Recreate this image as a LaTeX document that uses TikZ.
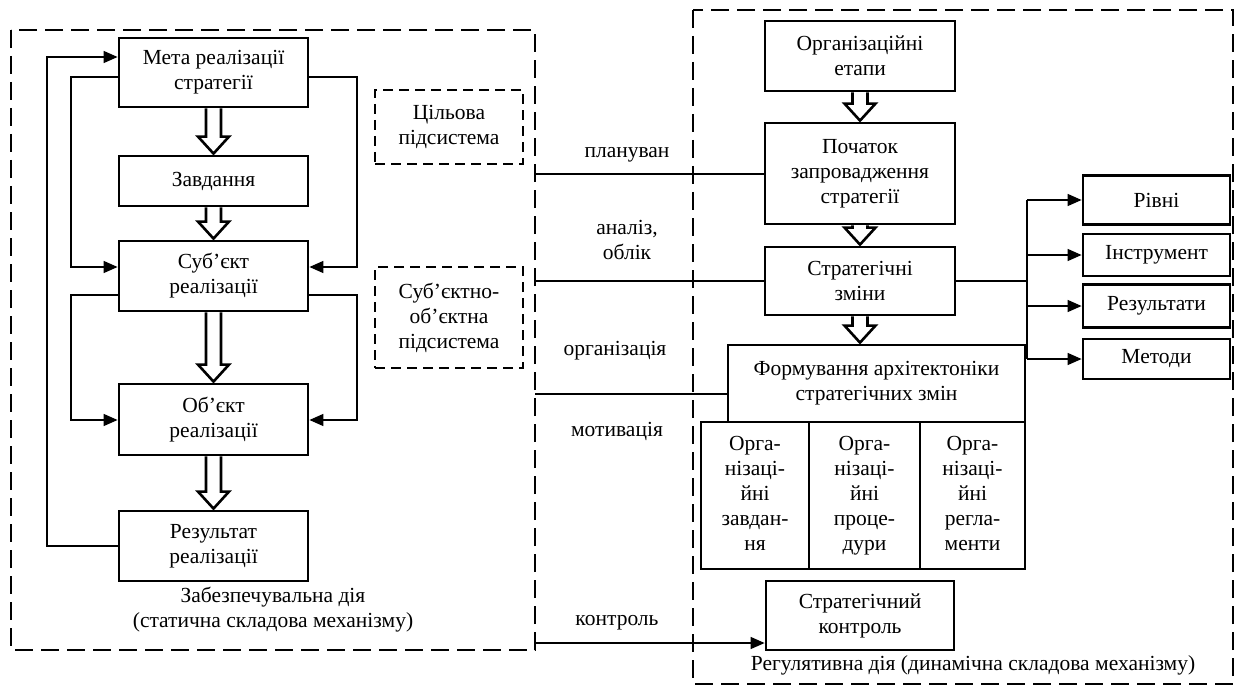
\documentclass[tikz,border=0pt]{standalone}
\usepackage{fontspec}
\setmainfont{Liberation Serif}
\usetikzlibrary{arrows.meta,calc,backgrounds}
\newcommand{\dfont}{\fontsize{21.5}{25}\selectfont}
\tikzset{
  box/.style={draw, line width=2.8pt, inner sep=0pt, align=center, font=\dfont},
  dbox/.style={draw, line width=2.8pt, dash pattern=on 10pt off 6pt, inner sep=0pt, align=center, font=\dfont},
  bigdash/.style={line width=2.8pt, dash pattern=on 18pt off 8pt},
  thinline/.style={line width=1.4pt},
  tarrow/.style={thinline, -{Triangle[length=14pt,width=12pt]}},
  lbl/.style={align=center, inner sep=0pt, font=\dfont},
  hollow/.style={line width=2.6pt, fill=white, line join=miter},
}
\newcommand{\harrow}[2]{%
  \draw[hollow] let \p1=(#1.south), \p2=(#2.north) in
    (\x1-7.5pt,\y1) -- (\x1-7.5pt,\y2+18pt) -- (\x1-15.5pt,\y2+18pt) -- (\x1,\y2+1pt)
    -- (\x1+15.5pt,\y2+18pt) -- (\x1+7.5pt,\y2+18pt) -- (\x1+7.5pt,\y1);}
\begin{document}
\begin{tikzpicture}[x=1pt,y=-1pt]
\useasboundingbox (0,0) rectangle (1236,687);
% big dashed frames
\draw[bigdash] (11,30) rectangle (535,650);
\draw[bigdash] (693,10) rectangle (1233,684);
% left column
\node[box, minimum width=189pt, minimum height=69pt] (meta) at (213.5,72.5) {Мета реалізації\\стратегії};
\node[box, minimum width=189pt, minimum height=50pt] (zavd) at (213.5,181) {Завдання};
\node[box, minimum width=189pt, minimum height=70pt] (subj) at (213.5,276) {Суб’єкт\\реалізації};
\node[box, minimum width=189pt, minimum height=71pt] (obj) at (213.5,419.5) {Об’єкт\\реалізації};
\node[box, minimum width=189pt, minimum height=70pt] (res) at (213.5,546) {Результат\\реалізації};
\node[lbl] (capl) at (273,610) {Забезпечувальна дія\\(статична складова механізму)};
% dashed subsystems
\node[dbox, minimum width=148pt, minimum height=74pt] (cil) at (449,127) {Цільова\\підсистема};
\node[dbox, minimum width=148pt, minimum height=101pt] (sos) at (449,317.5) {Суб’єктно-\\об’єктна\\підсистема};
% right column
\node[box, minimum width=190pt, minimum height=70pt] (etapy) at (860,56) {Організаційні\\етапи};
\node[box, minimum width=190pt, minimum height=101pt] (poch) at (860,173.5) {Початок\\запровадження\\стратегії};
\node[box, minimum width=190pt, minimum height=68pt] (zminy) at (860,281) {Стратегічні\\зміни};
\node[box, minimum width=297pt, minimum height=77pt] (form) at (876.5,383.5) {Формування архітектоніки\\стратегічних змін};
\node[box, minimum width=108pt, minimum height=147pt] (s1) at (755,495.5) {Орга-\\нізаці-\\йні\\завдан-\\ня\vphantom{ду}};
\node[box, minimum width=111pt, minimum height=147pt] (s2) at (864.5,495.5) {Орга-\\нізаці-\\йні\\проце-\\дури};
\node[box, minimum width=105pt, minimum height=147pt] (s3) at (972.5,495.5) {Орга-\\нізаці-\\йні\\регла-\\менти\vphantom{ду}};
\node[box, minimum width=188pt, minimum height=69pt] (kontr) at (860,615.5) {Стратегічний\\контроль};
\node[lbl] (capr) at (973,665) {Регулятивна дія (динамічна складова механізму)};
% right side boxes
\node[box, minimum width=147pt, minimum height=49pt] (rivni) at (1156.5,200) {Рівні};
\node[box, minimum width=147pt, minimum height=42pt] (instr) at (1156.5,255) {Інструмент};
\node[box, minimum width=147pt, minimum height=43pt] (rezult) at (1156.5,306) {Результати};
\node[box, minimum width=147pt, minimum height=40pt] (metody) at (1156.5,359) {Методи};
% middle labels
\node[lbl] (t1) at (627,155) {плануван};
\node[lbl] (t2) at (627,240) {аналіз,\\облік};
\node[lbl] (t3) at (615,351) {організація};
\node[lbl] (t4) at (617,431) {мотивація};
\node[lbl] (t5) at (617,623) {контроль};
% hollow arrows
\begin{pgfonlayer}{background}
\harrow{meta}{zavd}
\harrow{zavd}{subj}
\harrow{subj}{obj}
\harrow{obj}{res}
\harrow{etapy}{poch}
\harrow{poch}{zminy}
\harrow{zminy}{form}
\end{pgfonlayer}
% feedback lines
\coordinate (xl1) at (47,0);
\coordinate (xl2) at (71,0);
\coordinate (xr) at (357,0);
\coordinate (mtl) at ([yshift=15.5pt]meta.west);
\coordinate (mwl) at ([yshift=-4.5pt]meta.west);
\coordinate (mel) at ([yshift=-4.5pt]meta.east);
\coordinate (swin) at ([yshift=9pt]subj.west);
\coordinate (sein) at ([yshift=9pt]subj.east);
\coordinate (swout) at ([yshift=-19pt]subj.west);
\coordinate (seout) at ([yshift=-19pt]subj.east);
\coordinate (owin) at ([yshift=-0.5pt]obj.west);
\coordinate (oein) at ([yshift=-0.5pt]obj.east);
\draw[tarrow] (res.west) -- (xl1 |- res.west) |- (mtl);
\draw[tarrow] (mwl) -- (xl2 |- mwl) |- (swin);
\draw[tarrow] (mel) -- (xr |- mel) |- (sein);
\draw[tarrow] (swout) -- (xl2 |- swout) |- (owin);
\draw[tarrow] (seout) -- (xr |- seout) |- (oein);
% connectors from left frame
\coordinate (l1) at (535,174);
\coordinate (l2) at (535,281);
\coordinate (l3) at (535,394);
\coordinate (l4) at (535,643);
\draw[thinline] (l1) -- (poch.west |- l1);
\draw[thinline] (l2) -- (zminy.west);
\draw[thinline] (l3) -- (form.west |- l3);
\draw[tarrow] (l4) -- (kontr.west |- l4);
% branch to right boxes
\coordinate (br) at (1027,0);
\draw[thinline] (zminy.east) -- (br |- zminy.east);
\draw[thinline] (br |- rivni.west) -- (br |- metody.west);
\foreach \n in {rivni,instr,rezult,metody}
  \draw[tarrow] (br |- \n.west) -- (\n.west);
\end{tikzpicture}
\end{document}
